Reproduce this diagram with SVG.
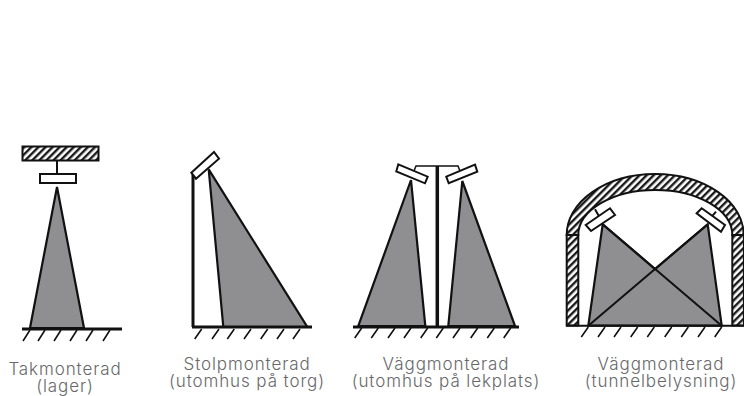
<svg xmlns="http://www.w3.org/2000/svg" width="744" height="396" viewBox="0 0 744 396">
<defs>
<pattern id="hatch" width="5" height="5" patternUnits="userSpaceOnUse" patternTransform="rotate(45)"><rect width="5" height="5" fill="#fff"/><rect width="2.400" height="5" fill="#1a1a1a"/></pattern>
</defs>
<style>
.cone{fill:#8f8f92;stroke:#111;stroke-width:2.200;stroke-linejoin:miter}
.ln{fill:none;stroke:#111;stroke-width:2}
.thick{fill:none;stroke:#111;stroke-width:3}
.lamp{fill:#fff;stroke:#111;stroke-width:2}
.hatch{fill:url(#hatch);stroke:#111;stroke-width:2}
.tick{fill:none;stroke:#111;stroke-width:1.600}
text{font-family:"Inter","Liberation Sans",sans-serif;font-size:17px;font-weight:300;letter-spacing:.9px;fill:#68686a;text-anchor:middle}
</style>
<rect width="744" height="396" fill="#fff"/>
<g id="takmonterad">
<rect class="hatch" x="22.500" y="146.500" width="76" height="14"/>
<path class="ln" d="M57 161V174"/>
<rect class="lamp" x="40" y="174" width="36" height="9"/>
<path class="cone" d="M57 187L84 328H30Z"/>
<path class="thick" d="M22 329H122"/>
<path class="tick" d="M30 330l-7 11M45 330l-7 11M61 330l-7 11M77 330l-7 11M93 330l-7 11M110 330l-7 11"/>
<text><tspan x="65" y="375">Takmonterad</tspan><tspan x="65" y="392">(lager)</tspan></text>
</g>
<g id="stolpmonterad">
<path class="cone" d="M208.700 169.300L307.300 327H223.300Z"/>
<path class="thick" d="M193 173V327"/>
<path class="lamp" d="M191.300 172.700L214 152L219 158.700L196 178.700Z"/>
<path class="thick" d="M192 327H312"/>
<path class="tick" d="M201.700 329l-7 10M219 329l-7 10M234.300 329l-7 10M251 329l-7 10M267.700 329l-7 10M284 329l-7 10M300 329l-7 10"/>
<text><tspan x="247" y="370">Stolpmonterad</tspan><tspan x="247" y="387">(utomhus på torg)</tspan></text>
</g>
<g id="vaggmonterad-lekplats">
<path class="cone" d="M411 180L425.300 326H358.300Z"/>
<path class="cone" d="M462.300 181L515 326H448.300Z"/>
<path class="ln" d="M414 171L416 166H458L460 171" style="stroke-width:1.500"/>
<path class="lamp" d="M398.300 164.300L427.700 176.700L425 183.300L396.300 171.300Z"/>
<path class="lamp" d="M446.300 176.700L475 164.700L477.300 171.700L448.700 183.300Z"/>
<path class="ln" d="M437.300 166V327" style="stroke-width:3.500"/>
<path class="thick" d="M353 327H519"/>
<path class="tick" d="M361.700 328l-7 10M378.300 328l-7 10M395 328l-7 10M411 328l-7 10M427.700 328l-7 10M443.300 328l-7 10M460 328l-7 10M477.700 328l-7 10M494.300 328l-7 10M510.700 328l-7 10"/>
<text><tspan x="446" y="370">Väggmonterad</tspan><tspan x="446" y="387">(utomhus på lekplats)</tspan></text>
</g>
<g id="vaggmonterad-tunnel">
<path class="hatch" d="M566.700 235A88.500 61 0 0 1 743.700 235H732.300A77 45 0 0 0 578.300 235Z"/>
<rect class="hatch" x="566.700" y="235" width="11.600" height="90.500"/>
<rect class="hatch" x="732.300" y="235" width="11.600" height="90.500"/>
<path class="cone" d="M602.700 224.300L655 269L707.700 224.300L721.700 325.700H588.300Z"/>
<path class="ln" d="M602.700 224.300L721.700 325.700M707.700 224.300L588.300 325.700"/>
<path class="ln" d="M595 209.300L599.300 216.700M716 211.700L711.700 216.700"/>
<path class="lamp" d="M585.700 225L610 208.300L615 215L591 231Z"/>
<path class="lamp" d="M696.700 213.300L701.700 208.300L725 225L721 231.700Z"/>
<path class="ln" d="M566 325.700H744"/>
<path class="tick" d="M588.300 327l-7 10M605 327l-7 10M621 327l-7 10M637.700 327l-7 10M654.300 327l-7 10M671.700 327l-7 10M688.300 327l-7 10M705 327l-7 10M721.700 327l-7 10"/>
<text><tspan x="661" y="370">Väggmonterad</tspan><tspan x="661" y="387">(tunnelbelysning)</tspan></text>
</g>
</svg>
